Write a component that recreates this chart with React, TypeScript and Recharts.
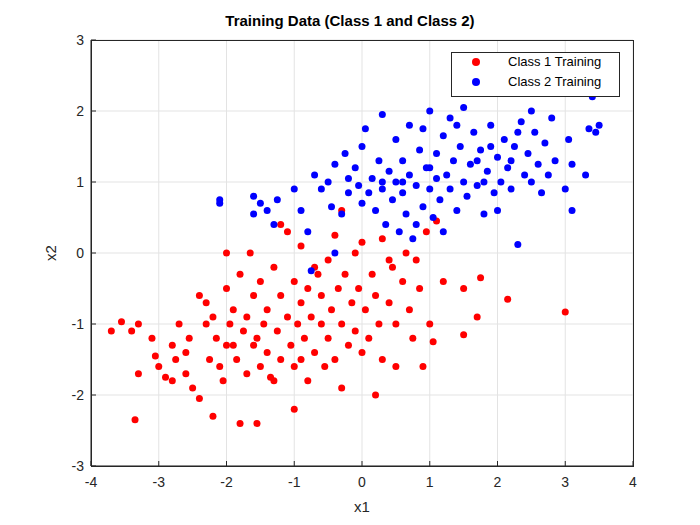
import React from "react";
import { ScatterChart, Scatter, XAxis, YAxis, CartesianGrid } from "recharts";

const class1: [number, number][] = [[-3.7,-1.1],[-3.55,-0.97],[-3.4,-1.1],[-3.3,-1.0],[-3.3,-1.7],[-3.35,-2.35],[-3.1,-1.2],[-3.05,-1.45],[-3.0,-1.6],[-2.9,-1.75],[-2.8,-1.3],[-2.75,-1.5],[-2.7,-1.0],[-2.6,-1.4],[-2.55,-1.2],[-2.5,-1.9],[-2.4,-2.05],[-2.4,-0.6],[-2.3,-0.7],[-2.3,-1.0],[-2.25,-1.5],[-2.2,-2.3],[-2.2,-0.9],[-2.15,-1.2],[-2.1,-1.6],[-2.05,-1.8],[-2.0,0.0],[-2.0,-0.5],[-1.95,-1.0],[-1.9,-0.8],[-1.9,-1.3],[-1.85,-1.5],[-1.8,-0.3],[-1.8,-2.4],[-1.75,-1.1],[-1.7,-0.9],[-1.7,-1.7],[-1.65,0.0],[-1.6,-0.6],[-1.55,-2.4],[-1.55,-1.2],[-1.5,-0.4],[-1.45,-1.0],[-1.4,-1.4],[-1.4,-0.8],[-1.35,-1.75],[-1.3,-0.2],[-1.25,-1.1],[-1.2,-0.6],[-1.2,-1.5],[-1.1,0.3],[-1.1,-0.9],[-1.05,-1.3],[-1.0,-0.4],[-1.0,-1.6],[-1.0,-2.2],[-0.95,-1.0],[-0.9,-0.7],[-0.9,0.1],[-0.85,-1.2],[-0.8,-0.5],[-0.8,-1.8],[-0.75,-0.9],[-0.7,-1.4],[-0.65,-0.3],[-0.6,-1.0],[-0.6,-0.6],[-0.55,-1.6],[-0.5,-0.1],[-0.5,-1.2],[-0.45,-0.8],[-0.4,-1.5],[-0.4,0.25],[-0.35,-0.5],[-0.3,-1.0],[-0.3,-1.9],[-0.25,-0.3],[-0.2,-1.3],[-0.15,-0.7],[-0.1,0.0],[-0.1,-1.1],[-0.05,-0.5],[0.0,-1.4],[0.0,0.15],[0.05,-0.8],[0.1,-1.2],[0.15,-0.3],[0.2,-2.0],[0.2,-0.6],[0.25,-1.0],[0.3,0.2],[0.3,-1.5],[0.4,-0.7],[0.45,-0.2],[0.5,-1.0],[0.5,-1.6],[0.6,-0.4],[0.65,0.0],[0.7,-0.8],[0.75,-1.2],[0.8,-0.1],[0.85,-0.5],[0.9,-1.6],[0.95,0.3],[1.0,-1.0],[1.05,-1.25],[1.1,0.45],[1.2,-0.4],[1.5,-0.5],[1.5,-1.15],[1.7,-0.9],[1.75,-0.35],[2.15,-0.65],[3.0,-0.83],[-0.3,0.6],[-1.2,0.4],[-2.6,-1.7],[-2.8,-1.8],[-1.6,-1.3],[-1.3,-1.8],[-0.7,-0.2],[0.4,-0.1],[-1.5,-1.6],[-2.0,-1.3],[-0.9,-1.5]];

const class2: [number, number][] = [[-2.1,0.75],[-2.1,0.7],[-1.6,0.8],[-1.6,0.55],[-1.5,0.7],[-1.4,0.6],[-1.3,0.4],[-1.25,0.75],[-1.0,0.9],[-0.9,0.6],[-0.8,0.3],[-0.75,-0.25],[-0.7,1.1],[-0.6,0.9],[-0.5,1.0],[-0.45,0.65],[-0.4,1.25],[-0.3,0.55],[-0.25,1.4],[-0.2,1.05],[-0.2,0.85],[-0.1,1.2],[-0.05,0.95],[0.0,1.5],[0.0,0.7],[0.05,1.75],[0.1,0.85],[0.15,1.05],[0.2,0.6],[0.25,1.3],[0.3,0.9],[0.3,1.95],[0.35,0.4],[0.4,1.15],[0.45,0.75],[0.5,1.6],[0.5,1.0],[0.55,0.3],[0.6,0.85],[0.6,1.3],[0.65,0.55],[0.7,1.1],[0.7,1.8],[0.75,0.2],[0.8,0.95],[0.85,1.45],[0.9,0.65],[0.95,1.2],[1.0,2.0],[1.0,0.9],[1.05,0.5],[1.1,1.4],[1.1,1.05],[1.15,0.75],[1.2,1.65],[1.25,1.1],[1.3,0.9],[1.3,1.9],[1.35,1.3],[1.4,0.6],[1.45,1.5],[1.5,1.0],[1.5,2.05],[1.55,0.8],[1.6,1.25],[1.65,1.7],[1.7,0.95],[1.75,1.45],[1.8,0.55],[1.85,1.15],[1.9,1.8],[1.95,0.85],[2.0,1.35],[2.05,1.0],[2.1,1.6],[2.15,1.2],[2.2,0.9],[2.25,1.5],[2.3,0.12],[2.35,1.85],[2.4,1.1],[2.45,1.4],[2.5,1.0],[2.55,1.7],[2.6,1.25],[2.65,0.85],[2.7,1.55],[2.75,1.1],[2.8,1.9],[2.85,1.3],[3.0,0.9],[3.05,1.6],[3.1,0.6],[3.1,1.25],[3.3,1.1],[3.35,1.75],[3.45,1.7],[3.5,1.8],[3.4,2.2],[2.5,2.0],[1.8,1.0],[0.9,1.75],[1.2,0.3],[1.4,1.8],[-0.4,0.0],[0.6,1.0],[1.0,1.2],[1.7,1.3],[2.0,0.6],[2.3,1.7],[0.3,1.0],[0.8,0.4],[1.9,1.5],[2.2,1.3]];

const xTicks = [-4, -3, -2, -1, 0, 1, 2, 3, 4];
const yTicks = [-3, -2, -1, 0, 1, 2, 3];

const d1 = class1.map(([x, y]) => ({ x, y }));
const d2 = class2.map(([x, y]) => ({ x, y }));

const Dot = (color: string) => (p: any) => <circle cx={p.cx} cy={p.cy} r={3.5} fill={color} />;

const font = "Liberation Sans, Arial, sans-serif";

export default function App() {
  return (
    <div style={{ position: "absolute", left: 0, top: 0, width: 700, height: 525, background: "#fff", fontFamily: font }}>
      <ScatterChart width={700} height={525} margin={{ top: 40, right: 67, bottom: 29, left: 51 }}>
        <CartesianGrid stroke="#e3e3e3" />
        <XAxis type="number" dataKey="x" domain={[-4, 4]} ticks={xTicks} height={30} tickSize={-5}
          stroke="#262626" tick={{ fill: "#262626", fontSize: 14, dy: 14, fontFamily: font }} />
        <YAxis type="number" dataKey="y" domain={[-3, 3]} ticks={yTicks} width={40} tickSize={-5}
          stroke="#262626" tick={{ fill: "#262626", fontSize: 14, dx: -10, fontFamily: font }} />
        <Scatter data={d1} shape={Dot("#ff0000")} isAnimationActive={false} />
        <Scatter data={d2} shape={Dot("#0000ff")} isAnimationActive={false} />
      </ScatterChart>
      <div style={{ position: "absolute", left: 91, top: 40, width: 541, height: 425, border: "1px solid #262626", pointerEvents: "none" }} />
      <div style={{ position: "absolute", left: 0, width: 700, top: 12, textAlign: "center", fontWeight: "bold", fontSize: 15, color: "#000" }}>
        Training Data (Class 1 and Class 2)
      </div>
      <div style={{ position: "absolute", left: 0, width: 724, top: 498, textAlign: "center", fontSize: 15, color: "#262626" }}>x1</div>
      <div style={{ position: "absolute", left: 50, top: 253, transform: "translate(-50%,-50%) rotate(-90deg)", fontSize: 15, color: "#262626" }}>x2</div>
      <div style={{ position: "absolute", left: 451, top: 52, width: 167, height: 43, border: "1px solid #262626", background: "#fff", fontSize: 13, color: "#000" }}>
        <div style={{ position: "absolute", left: 20, top: 5, width: 8, height: 8, borderRadius: 4, background: "#ff0000" }} />
        <div style={{ position: "absolute", left: 56, top: 1 }}>Class 1 Training</div>
        <div style={{ position: "absolute", left: 20, top: 25, width: 8, height: 8, borderRadius: 4, background: "#0000ff" }} />
        <div style={{ position: "absolute", left: 56, top: 21 }}>Class 2 Training</div>
      </div>
    </div>
  );
}
